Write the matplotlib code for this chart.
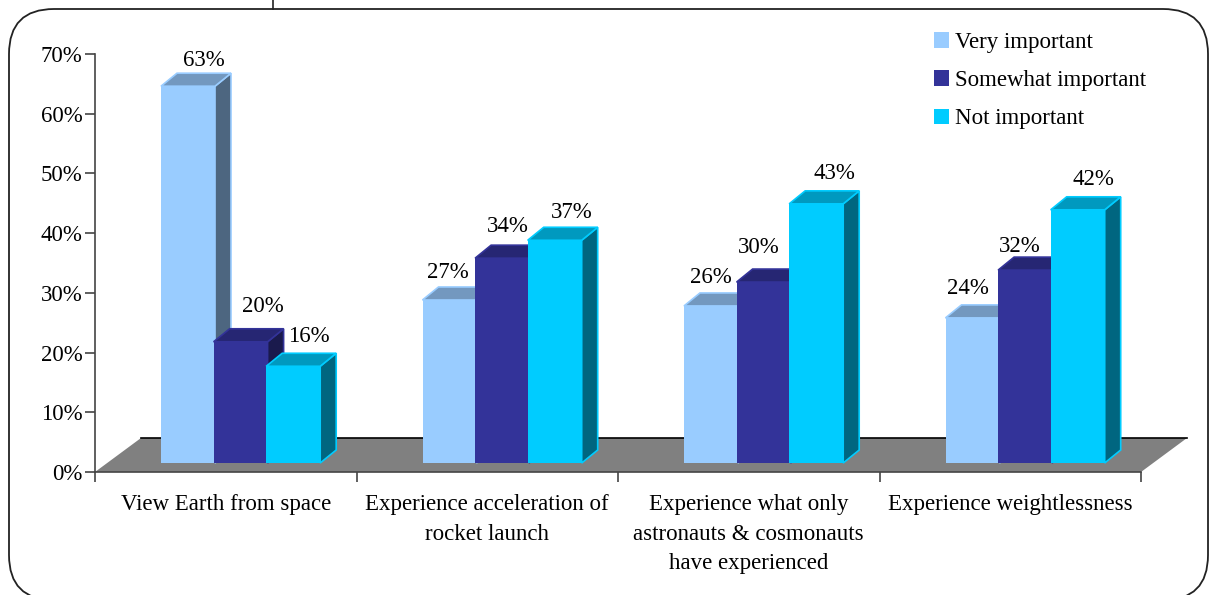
import matplotlib
matplotlib.use('Agg')
import matplotlib.pyplot as plt
from matplotlib.patches import FancyBboxPatch, Patch, Polygon

# DATA
categories = ['View Earth from space', 'Experience acceleration of\nrocket launch',
              'Experience what only\nastronauts & cosmonauts\nhave experienced', 'Experience weightlessness']
series_names = ['Very important', 'Somewhat important', 'Not important']
very_important = [63.1, 27.3, 26.3, 24.3]
somewhat_important = [20.3, 34.3, 30.3, 32.3]
not_important = [16.2, 37.3, 43.4, 42.4]
y_ticks = [0, 10, 20, 30, 40, 50, 60, 70]

# STYLE
front_colors = ['#99CCFF', '#333399', '#00CCFF']
top_colors = ['#7398BF', '#262673', '#0099BF']
side_colors = ['#4D6680', '#1A1A4D', '#006680']
FONT = 'Liberation Serif'
FS = 16.5

plt.rcParams['font.family'] = FONT

fig = plt.figure(figsize=(12.14, 5.95), dpi=100)

# background layer in pixels for the rounded frame
bg = fig.add_axes([0, 0, 1, 1])
bg.set_xlim(0, 1214)
bg.set_ylim(595, 0)
bg.axis('off')
bg.add_patch(FancyBboxPatch((54, 54), 1109, 501, boxstyle='round,pad=45,rounding_size=45',
                            fc='white', ec='#222222', lw=1.3, clip_on=False))
bg.plot([273, 273], [0, 9], color='#222222', lw=1.2)

# plot axes, 95..1141 px wide and 54..472 px high
ax = fig.add_axes([95 / 1214, (595 - 472) / 595, (1141 - 95) / 1214, (472 - 54) / 595])
ax.patch.set_visible(False)
ax.set_xlim(0, 4)
ax.set_ylim(0, 70)
for s in ['top', 'right']:
    ax.spines[s].set_visible(False)
for s in ['left', 'bottom']:
    ax.spines[s].set_color('#444444')
    ax.spines[s].set_linewidth(1.2)

px_x = 4 / 1046
px_y = 70 / 418

# floor
floor_dx = 46 * px_x
floor_dy = 34 * px_y
ax.add_patch(Polygon([(0, 0), (4, 0), (4 + floor_dx, floor_dy), (floor_dx, floor_dy)],
                     fc='#808080', ec='none', clip_on=False, zorder=1))
ax.plot([floor_dx, 4 + floor_dx], [floor_dy, floor_dy], color='black', lw=1.2, clip_on=False, zorder=1)

# bars
bar_w = 54 * px_x
step = 52.6 * px_x
start = 66 * px_x
dep_x = 16 * px_x
dep_y = 13 * px_y
base = 9 * px_y

# label nudges in pixels from the back of the bar top
nudges = [[(0, 13), (6, 22), (0, 17)],
          [(-18, 14), (-10, 19), (1, 15)],
          [(-16, 15), (-21, 22), (2, 17)],
          [(-21, 16), (-21, 11), (0, 17)]]

z = 2
for j, vals in enumerate([very_important, somewhat_important, not_important]):
    for i, v in enumerate(vals):
        x0 = i + start + j * step
        x1 = x0 + bar_w
        top = base + v
        ec = front_colors[j]
        ax.add_patch(Polygon([(x1, base), (x1 + dep_x, base + dep_y), (x1 + dep_x, top + dep_y), (x1, top)],
                             fc=side_colors[j], ec=ec, lw=1.2, clip_on=False, zorder=z))
        ax.add_patch(Polygon([(x0, top), (x0 + dep_x, top + dep_y), (x1 + dep_x, top + dep_y), (x1, top)],
                             fc=top_colors[j], ec=ec, lw=1.2, clip_on=False, zorder=z))
        ax.add_patch(Polygon([(x0, base), (x1, base), (x1, top), (x0, top)],
                             fc=front_colors[j], ec='none', clip_on=False, zorder=z))
        nx, ny = nudges[i][j]
        ax.annotate(f'{v:.0f}%', ((x0 + x1) / 2 + dep_x, top + dep_y), xytext=(nx * 0.72, ny * 0.72),
                    textcoords='offset points', ha='center', va='center', fontsize=FS, zorder=20)

# axis ticks and labels
ax.set_yticks(y_ticks)
ax.set_yticklabels([f'{t}%' for t in y_ticks], fontsize=FS)
ax.set_xticks([0, 1, 2, 3, 4])
ax.set_xticklabels([])
ax.set_xticks([0.5, 1.5, 2.5, 3.5], categories, minor=True, fontsize=FS, linespacing=1.52, va='top')
ax.tick_params(axis='x', which='minor', length=0, pad=16)
ax.tick_params(axis='x', which='major', length=7, color='#444444', width=1.2)
ax.tick_params(axis='y', length=7, color='#444444', width=1.2, pad=2)

handles = [Patch(fc=c, ec='none') for c in front_colors]
ax.legend(handles, series_names, loc='upper left', bbox_to_anchor=(934 / 1214, 1 - 32 / 595),
          bbox_transform=fig.transFigure, frameon=False, fontsize=FS, borderpad=0, borderaxespad=0,
          handlelength=0.65, handleheight=0.65, handletextpad=0.27, labelspacing=0.75)

fig.savefig('out.png', dpi=100)
